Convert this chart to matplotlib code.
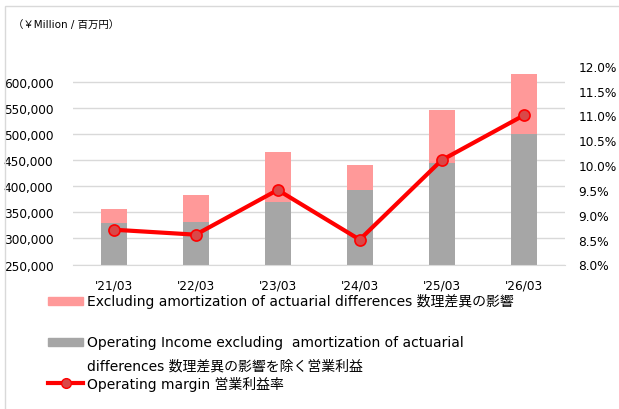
import matplotlib
matplotlib.use("Agg")
import matplotlib.pyplot as plt
from matplotlib.patches import Rectangle
from matplotlib.lines import Line2D
import numpy as np

plt.rcParams['font.family'] = ['DejaVu Sans', 'Noto Sans CJK JP']

years = ["'21/03", "'22/03", "'23/03", "'24/03", "'25/03", "'26/03"]
op_income = [328600, 331600, 369200, 393300, 444500, 500000]
total = [356000, 382800, 465000, 440700, 545700, 614700]
margin = [8.7, 8.6, 9.5, 8.5, 10.1, 11.0]
left_ticks = [250000, 300000, 350000, 400000, 450000, 500000, 550000, 600000]
right_ticks = [8.0, 8.5, 9.0, 9.5, 10.0, 10.5, 11.0, 11.5, 12.0]

label_pink = "Excluding amortization of actuarial differences 数理差異の影響"
label_grey1 = "Operating Income excluding  amortization of actuarial"
label_grey2 = "differences 数理差異の影響を除く営業利益"
label_line = "Operating margin 営業利益率"

pink = "#FF9999"
grey = "#A6A6A6"
red = "#FF0000"

W, H = 619, 410
fig = plt.figure(figsize=(W / 100, H / 100), dpi=100)
ax = fig.add_axes([72.7 / W, 1 - 265.5 / H, (564.7 - 72.7) / W, (265.5 - 66.7) / H])

x = np.arange(len(years))
extra = [t - o for t, o in zip(total, op_income)]
ax.bar(x, op_income, width=0.32, color=grey, zorder=2)
ax.bar(x, extra, width=0.32, bottom=op_income, color=pink, zorder=2)
ax.set_xlim(-0.5, len(years) - 0.5)
ax.set_ylim(250000, 631000)
ax.set_yticks(left_ticks)
ax.set_yticklabels([f"{v:,}" for v in left_ticks])
ax.set_xticks(x)
ax.set_xticklabels(years)
ax.yaxis.grid(True, color="#D9D9D9", linewidth=1, zorder=0)
ax.set_axisbelow(True)
for s in ax.spines.values():
    s.set_visible(False)
ax.spines['bottom'].set_visible(True)
ax.spines['bottom'].set_color("#D9D9D9")
ax.tick_params(axis='y', length=0, pad=14, labelsize=8.7, colors="#000000")
ax.tick_params(axis='x', length=0, pad=10, labelsize=8.7)

ax2 = ax.twinx()
ax2.plot(x, margin, color=red, linewidth=3, marker='o', markersize=8,
         markerfacecolor="#D94848", markeredgecolor=red, markeredgewidth=1.2, zorder=5)
ax2.set_ylim(8.0, 12.0)
ax2.set_yticks(right_ticks)
ax2.set_yticklabels([f"{v:.1f}%" for v in right_ticks])
for s in ax2.spines.values():
    s.set_visible(False)
ax2.tick_params(axis='y', length=0, pad=10, labelsize=8.7)

# chart border
fig.patches.append(Rectangle((5 / W, -0.01), 1.02, 1 - 7 / H + 0.01, transform=fig.transFigure,
                             fill=False, edgecolor="#D9D9D9", linewidth=1))

fig.text(13 / W, 1 - 26 / H, "（￥Million / 百万円）", fontsize=7.5, va='center', ha='left')

# legend
fig.patches.append(Rectangle((48 / W, 1 - 306 / H), 35 / W, 8 / H, transform=fig.transFigure,
                             color=pink))
fig.text(87 / W, 1 - 302 / H, label_pink, fontsize=10, va='center', ha='left')
fig.patches.append(Rectangle((48 / W, 1 - 347 / H), 35 / W, 8 / H, transform=fig.transFigure,
                             color=grey))
fig.text(87 / W, 1 - 343 / H, label_grey1, fontsize=10, va='center', ha='left')
fig.text(87 / W, 1 - 367 / H, label_grey2, fontsize=10, va='center', ha='left')
fig.lines.append(Line2D([48 / W, 83 / W], [1 - 384 / H, 1 - 384 / H], transform=fig.transFigure,
                        color=red, linewidth=3))
fig.lines.append(Line2D([65.5 / W], [1 - 384 / H], transform=fig.transFigure,
                        color=red, marker='o', markersize=7, markerfacecolor="#D94848",
                        markeredgecolor=red, linestyle='none'))
fig.text(87 / W, 1 - 384 / H, label_line, fontsize=10, va='center', ha='left')

fig.savefig("out.png", dpi=100)
